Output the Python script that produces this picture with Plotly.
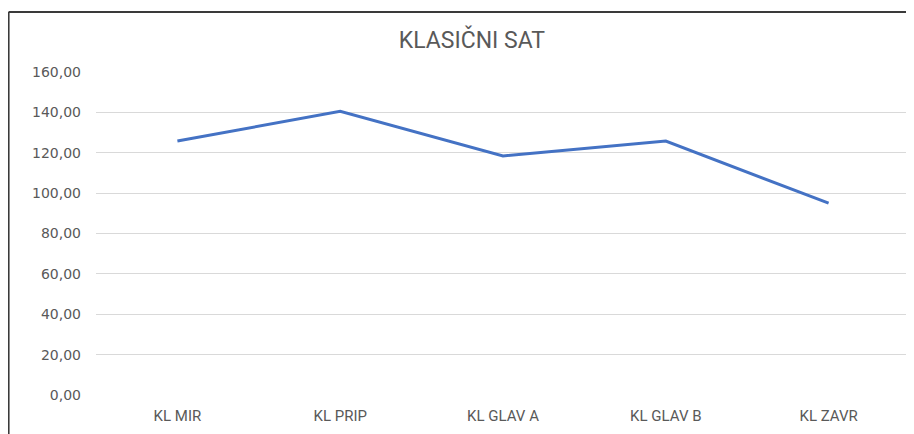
import plotly.graph_objects as go

categories = ["KL MIR", "KL PRIP", "KL GLAV A", "KL GLAV B", "KL ZAVR"]
values = [125.8, 140.5, 118.4, 125.8, 95.0]
y_ticks = [0, 20, 40, 60, 80, 100, 120, 140, 160]

GREY = "#595959"
GRID = "#d9d9d9"
BLUE = "#4472c4"

fig = go.Figure()
fig.add_trace(
    go.Scatter(
        x=categories,
        y=values,
        mode="lines",
        line={"color": BLUE, "width": 3},
        hoverinfo="x+y",
    )
)

# page body has an 8px default margin, so the figure is a bit smaller
fig.update_layout(
    width=906,
    height=426,
    margin={"l": 87.5, "r": 3.5, "t": 64, "b": 39},
    paper_bgcolor="white",
    plot_bgcolor="white",
    separators=", ",
    showlegend=False,
    title={
        "text": "KLASIČNI SAT",
        "x": 0.512,
        "xanchor": "center",
        "y": 0.925,
        "yanchor": "middle",
        "font": {"family": "Roboto, sans-serif", "size": 23, "color": GREY},
    },
)

fig.update_xaxes(
    range=[-0.5, 4.5],
    showgrid=False,
    showline=False,
    zeroline=False,
    ticks="",
    ticklabelstandoff=10,
    tickfont={"family": "Roboto, sans-serif", "size": 15, "color": GREY},
)
fig.update_yaxes(
    range=[0, 160],
    tickvals=y_ticks,
    tickformat=".2f",
    showgrid=True,
    gridcolor=GRID,
    gridwidth=1,
    zeroline=False,
    showline=False,
    ticks="",
    ticklabelstandoff=14,
    tickfont={"family": "DejaVu Sans, Noto Sans, sans-serif", "size": 14, "color": GREY},
)

# chart frame (left and top edge visible in the reference)
fig.add_shape(type="line", xref="paper", yref="paper",
              x0=-0.1074, x1=-0.1074, y0=-0.2, y1=1.1858,
              line={"color": "#3a3a3a", "width": 2})
fig.add_shape(type="line", xref="paper", yref="paper",
              x0=-0.1074, x1=1.1, y0=1.1858, y1=1.1858,
              line={"color": "#3a3a3a", "width": 2})

fig.write_html("out.html")
